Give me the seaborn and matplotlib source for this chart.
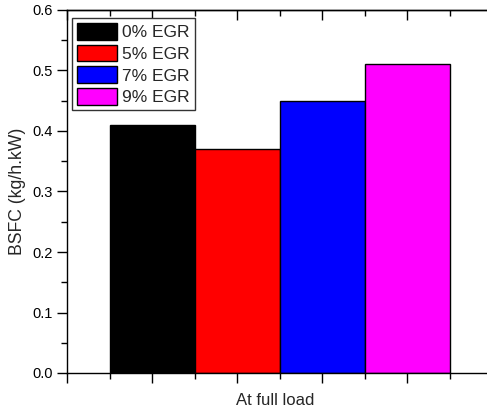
import matplotlib
matplotlib.use("Agg")
import matplotlib.pyplot as plt
from matplotlib.ticker import MultipleLocator, NullFormatter
import pandas as pd
import seaborn as sns

# Values
egr_labels = ['0% EGR', '5% EGR', '7% EGR', '9% EGR']
bsfc_values = [0.41, 0.37, 0.45, 0.51]
bar_colors = ['#000000', '#ff0000', '#0000ff', '#ff00ff']

df = pd.DataFrame({'EGR': egr_labels, 'BSFC': bsfc_values})

sns.set_style('ticks')
plt.rcParams['font.family'] = ['Liberation Sans', 'DejaVu Sans']

fig = plt.figure(figsize=(4.87, 4.12), dpi=100)
# axes run past the right edge, as in the cropped reference
ax = fig.add_axes([67 / 487, 39 / 412, 510 / 487, 363 / 412])

sns.barplot(data=df, x='EGR', y='BSFC', hue='EGR', palette=bar_colors,
            width=1, edgecolor='black', linewidth=1, saturation=1,
            legend=True, ax=ax)

ax.set_xlim(-1, 5)
ax.set_ylim(0, 0.6)

# ticks: major/minor on x, no labels; y labelled every 0.1
ax.xaxis.set_major_locator(MultipleLocator(1))
ax.xaxis.set_minor_locator(MultipleLocator(0.5))
ax.xaxis.set_major_formatter(NullFormatter())
ax.yaxis.set_major_locator(MultipleLocator(0.1))
ax.yaxis.set_minor_locator(MultipleLocator(0.05))
ax.yaxis.set_major_formatter(plt.FuncFormatter(lambda v, p: '{:.1f}'.format(v)))

ax.tick_params(axis='both', which='major', length=7, width=1, color='black',
               labelsize=10.5, labelcolor='black', direction='out')
ax.tick_params(axis='both', which='minor', length=4, width=1, color='black',
               direction='out')
ax.tick_params(axis='x', which='both', bottom=True, top=False)

# top axis with inward ticks
top = ax.secondary_xaxis('top')
top.xaxis.set_major_locator(MultipleLocator(1))
top.xaxis.set_minor_locator(MultipleLocator(0.5))
top.xaxis.set_major_formatter(NullFormatter())
top.tick_params(which='major', length=7, width=1, direction='in', color='black')
top.tick_params(which='minor', length=4, width=1, direction='in', color='black')
top.spines['top'].set_linewidth(1)
top.spines['top'].set_color('black')

for s in ax.spines.values():
    s.set_color('black')
    s.set_linewidth(1)

ax.set_xlabel('At full load', fontsize=12)
ax.set_ylabel('BSFC (kg/h.kW)', fontsize=12.7)
ax.xaxis.set_label_coords(0.408, -0.055)
ax.yaxis.set_label_coords(-0.08, 0.5)

handles, labels = ax.get_legend_handles_labels()
leg = ax.legend(handles, labels, loc='upper left',
                bbox_to_anchor=(0.0098, 0.978), borderaxespad=0,
                fontsize=12.5, handlelength=2.3, handleheight=1.1,
                labelspacing=0.25, handletextpad=0.3, borderpad=0.3,
                fancybox=False, framealpha=1, edgecolor='#333333')
leg.get_frame().set_linewidth(1)

fig.savefig('out.png', dpi=100)
